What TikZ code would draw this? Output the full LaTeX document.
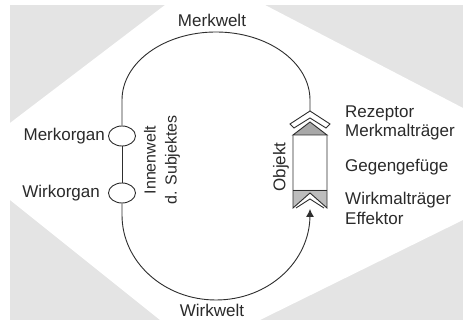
\documentclass[tikz,border=0pt]{standalone}
\usepackage{fontspec}
\setmainfont{Liberation Sans}
\usetikzlibrary{positioning,arrows.meta,calc,shapes.geometric}
\definecolor{bgfill}{HTML}{E4E4E4}
\definecolor{loopline}{HTML}{2E2E2E}
\definecolor{objfill}{HTML}{A8A8A8}
\definecolor{bandfill}{HTML}{BDBDBD}
\definecolor{labtext}{HTML}{2A2A2A}
\tikzset{
  lab/.style={font=\fontsize{17}{20}\selectfont, text=labtext, inner sep=1pt},
  organ/.style={ellipse, draw=loopline, fill=white, line width=0.9pt,
                minimum width=27pt, minimum height=20pt, inner sep=0pt},
  loop/.style={draw=loopline, line width=0.9pt},
  objline/.style={draw=loopline, line width=0.9pt, line join=miter},
  flow/.style={loop, -{Latex[length=8pt,width=8pt]}},
}
\begin{document}
\begin{tikzpicture}[x=1pt,y=1pt]
\useasboundingbox (0,0) rectangle (463,320);

% ---- background: grey sheet with a white diamond ---------------------------
\fill[bgfill] (10,0) rectangle (463,315);
\fill[white] (165,315) -- (265,315) -- (463,212) -- (463,100) -- (260,0)
  -- (160,0) -- (10,120) -- (10,197) -- cycle;

% ---- organs of the subject, on the left side of the circle -----------------
\node[organ] (merk) at (122,184) {};
\node[organ] (wirk) at (122,127) {};
\node[lab, left=2pt of merk] (merklab) {Merkorgan};
\node[lab, left=7pt of wirk] (wirklab) {Wirkorgan};
\node[lab, rotate=90, align=center, font=\fontsize{16}{21}\selectfont]
  (innen) at (162,160) {Innenwelt\\d. Subjektes};

% ---- the object, on the right side -----------------------------------------
\coordinate (rez) at (310,209);
\coordinate (eff) at (310,111);
% receptor chevron
\draw[objline, fill=white] (290,196) -- (rez) -- (330,196) -- (326,192)
  -- (310,202) -- (294,192) -- cycle;
% Merkmaltraeger: grey roof
\fill[objfill] (293,185) -- (310,198) -- (327,185) -- cycle;
% Wirkmaltraeger: grey band above the notch
\fill[bandfill] (293,130) -- (327,130) -- (327,112) -- (310,127) -- (293,112) -- cycle;
\draw[objline] (293,185) -- (310,198) -- (327,185) -- cycle;
\draw[objline] (293,185) -- (293,112) -- (310,127) -- (327,112) -- (327,185);
\draw[objline] (293,130) -- (327,130);
% effector chevron in the notch
\draw[objline] (296,112) -- (310,121) -- (324,112);
\node[lab, rotate=90] (obj) at (281,153) {Objekt};

% ---- labels of the object ---------------------------------------------------
\node[lab, anchor=west] (rezlab) at (344,207) {Rezeptor};
\node[lab, anchor=west] (mmlab) at (344,188) {Merkmalträger};
\node[lab, anchor=west] (gglab) at (344,153) {Gegengefüge};
\node[lab, anchor=west] (wmlab) at (344,120) {Wirkmalträger};
\node[lab, anchor=west] (efflab) at (344,102) {Effektor};

% ---- the functional circle --------------------------------------------------
\node[lab] (merkwelt) at (212,300) {Merkwelt};
\node[lab, anchor=base] (wirkwelt) at (212,3) {Wirkwelt};
\draw[loop] (merk.north) -- (122,220)
  arc[start angle=180, end angle=0, x radius=94pt, y radius=68pt] -- (rez);
\draw[loop] (merk.south) -- (wirk.north);
\draw[flow] (wirk.south) -- (122,105)
  arc[start angle=180, end angle=360, x radius=94pt, y radius=85pt] -- (eff);
\end{tikzpicture}
\end{document}
